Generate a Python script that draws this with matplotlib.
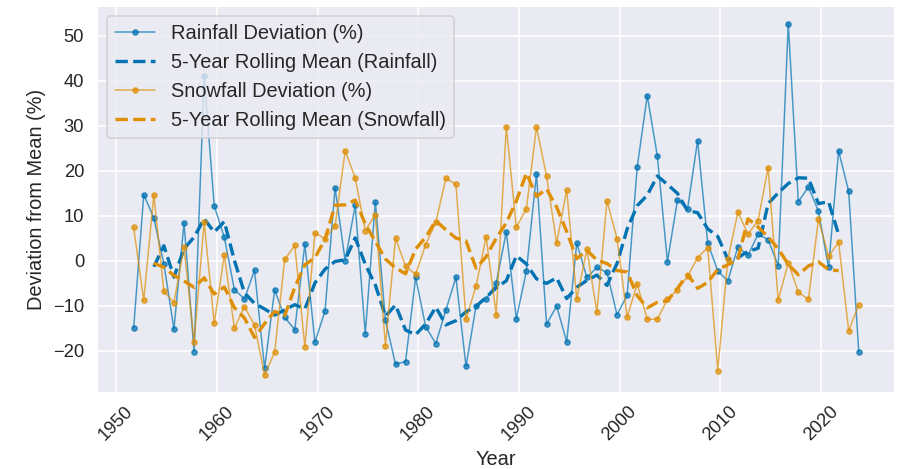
import matplotlib
matplotlib.use("Agg")
import matplotlib.pyplot as plt
import matplotlib.dates as mdates
import seaborn as sns
import pandas as pd

# Water years (points sit at the end of each water year, 30 Sep)
years = list(range(1951, 2024))

rainfall_dev = [
    -15.0, 14.7, 9.5, -0.7, -15.2, 8.4, -20.2, 41.0, 12.2, 5.2,
    -6.4, -8.5, -2.1, -23.9, -6.5, -12.6, -15.3, 3.7, -18.1, -11.2,
    16.2, 0.0, 12.3, -16.2, 13.1, -13.2, -23.0, -22.4, -3.7, -14.7,
    -18.4, -11.0, -3.7, -23.5, -10.0, -8.5, -5.0, 6.4, -12.9, -2.3,
    19.3, -14.1, -10.1, -18.0, 3.9, -3.7, -1.5, -2.6, -12.0, -7.7,
    20.8, 36.7, 23.3, -0.2, 13.5, 11.5, 26.7, 4.0, -2.3, -4.5,
    3.1, 1.2, 5.9, 4.7, -1.1, 52.7, 13.1, 16.4, 11.0, -1.5,
    24.4, 15.4, -20.2,
]

snowfall_dev = [
    7.4, -8.8, 14.7, -6.8, -9.3, 3.0, -18.0, 8.6, -13.9, 1.3,
    -15.0, -10.2, -14.3, -25.4, -20.3, 0.3, 3.4, -19.1, 6.2, 4.9,
    7.7, 24.4, 18.4, 6.7, 10.2, -18.9, 5.0, -1.2, -3.0, 3.6,
    8.5, 18.3, 17.0, -13.0, -5.6, 5.3, -12.0, 29.8, 7.4, 11.6,
    29.7, 18.8, 3.9, 15.7, -8.5, 2.5, -11.4, 13.3, 4.9, -12.5,
    -5.2, -13.0, -13.0, -8.6, -6.4, -3.5, 0.7, 2.9, -24.4, 0.3,
    10.8, 5.9, 8.9, 20.7, -8.8, -0.4, -7.0, -8.6, 9.2, 1.0,
    4.1, -15.6, -9.8,
]

dates = pd.to_datetime([f"{y}-09-30" for y in years])
rain = pd.Series(rainfall_dev, index=dates)
snow = pd.Series(snowfall_dev, index=dates)
rain_roll = rain.rolling(5, center=True).mean()
snow_roll = snow.rolling(5, center=True).mean()

sns.set_theme(style="darkgrid", palette="colorblind")
plt.rcParams["font.family"] = ["Liberation Sans", "DejaVu Sans"]

blue, orange = sns.color_palette("colorblind")[:2]

DPI = 120
fig = plt.figure(figsize=(897 / DPI, 469 / DPI), dpi=DPI)
ax = fig.add_axes([97.4 / 897, 76.4 / 469, (895 - 97.4) / 897, (463 - 76.4) / 469])

ax.plot(rain.index, rain.values, marker="o", markersize=3, linewidth=0.9,
        alpha=0.7, color=blue, label="Rainfall Deviation (%)")
ax.plot(rain_roll.index, rain_roll.values, linestyle="--", linewidth=2,
        color=blue, label="5-Year Rolling Mean (Rainfall)")
ax.plot(snow.index, snow.values, marker="o", markersize=3, linewidth=0.9,
        alpha=0.7, color=orange, label="Snowfall Deviation (%)")
ax.plot(snow_roll.index, snow_roll.values, linestyle="--", linewidth=2,
        color=orange, label="5-Year Rolling Mean (Snowfall)")

ax.xaxis.set_major_locator(mdates.YearLocator(10))
ax.xaxis.set_major_formatter(mdates.DateFormatter("%Y"))
ax.tick_params(axis="x", pad=0)
ax.tick_params(axis="y", pad=2)
plt.setp(ax.get_xticklabels(), rotation=45)

ax.set_xlabel("Year", fontsize=12, labelpad=4)
ax.set_ylabel("Deviation from Mean (%)", fontsize=12)
ax.legend(loc="upper left", fontsize=12)

fig.savefig("out.png", dpi=DPI)
